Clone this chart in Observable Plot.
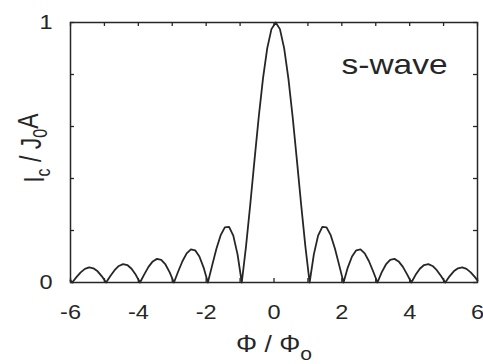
<!DOCTYPE html>
<html>
<head>
<meta charset="utf-8">
<script src="https://cdn.jsdelivr.net/npm/d3@7"></script>
<script src="https://cdn.jsdelivr.net/npm/@observablehq/plot@0.6"></script>
<style>
  html, body { margin: 0; padding: 0; background: #fff; }
  svg { display: block; }
</style>
</head>
<body>
<div id="chart"></div>
<script>
// Flux Φ/Φ0 (x) and normalised critical current Ic/J0A (y)
const phi = [
  -6.0, -5.95, -5.825, -5.70, -5.575, -5.45, -5.325, -5.20, -5.075, -4.95,
  -4.825, -4.70, -4.575, -4.45, -4.325, -4.20, -4.075, -3.95,
  -3.825, -3.70, -3.575, -3.45, -3.325, -3.20, -3.075, -2.95,
  -2.825, -2.70, -2.575, -2.45, -2.325, -2.20, -2.075, -1.95,
  -1.825, -1.70, -1.575, -1.45, -1.325, -1.20, -1.075, -0.95,
  -0.825, -0.70, -0.575, -0.45, -0.325, -0.20, -0.075, 0.05,
  0.175, 0.30, 0.425, 0.55, 0.675, 0.80, 0.925, 1.05,
  1.175, 1.30, 1.425, 1.55, 1.675, 1.80, 1.925, 2.05,
  2.175, 2.30, 2.425, 2.55, 2.675, 2.80, 2.925, 3.05,
  3.175, 3.30, 3.425, 3.55, 3.675, 3.80, 3.925, 4.05,
  4.175, 4.30, 4.425, 4.55, 4.675, 4.80, 4.925, 5.05,
  5.175, 5.30, 5.425, 5.55, 5.675, 5.80, 5.925, 6.0
];
const ic = [
  0.008, 0, 0.0207, 0.0391, 0.0523, 0.0579, 0.0547, 0.0429, 0.0238, 0,
  0.0250, 0.0474, 0.0636, 0.0707, 0.0672, 0.0530, 0.0295, 0,
  0.0314, 0.0600, 0.0811, 0.0909, 0.0871, 0.0693, 0.0390, 0,
  0.0424, 0.0818, 0.1120, 0.1273, 0.1238, 0.1000, 0.0573, 0,
  0.0650, 0.1286, 0.1810, 0.2122, 0.2139, 0.1801, 0.1083, 0,
  0.1392, 0.3001, 0.4705, 0.6366, 0.7842, 0.9003, 0.9745, 1.0,
  0.9745, 0.9003, 0.7842, 0.6366, 0.4705, 0.3001, 0.1392, 0,
  0.1083, 0.1801, 0.2139, 0.2122, 0.1810, 0.1286, 0.0650, 0,
  0.0573, 0.1000, 0.1238, 0.1273, 0.1120, 0.0818, 0.0424, 0,
  0.0390, 0.0693, 0.0871, 0.0909, 0.0811, 0.0600, 0.0314, 0,
  0.0295, 0.0530, 0.0672, 0.0707, 0.0636, 0.0474, 0.0250, 0,
  0.0238, 0.0429, 0.0547, 0.0579, 0.0523, 0.0391, 0.0207, 0.008
];

const xTickLabels = [-6, -4, -2, 0, 2, 4, 6];
const xMinorTicks = [-6, -5, -4, -3, -2, -1, 0, 1, 2, 3, 4, 5, 6];
const yTickLabels = [0, 1];
const yMinorTicks = [0, 0.2, 0.4, 0.6, 0.8, 1];
const seriesLabel = "s-wave";
const xLabel = "Φ / Φo";
const yLabel = "Ic / J0A";

const data = phi.map((x, i) => ({x, y: ic[i]}));

const W = 483, H = 364;
const mL = 70, mR = 6, mT = 22, mB = 82;
const plotW = W - mL - mR, plotH = H - mT - mB;
const tickLen = 4;

const ink = "#262626";
const font = "'Liberation Sans', Arial, sans-serif";

const chart = Plot.plot({
  width: W,
  height: H,
  marginLeft: mL,
  marginRight: mR,
  marginTop: mT,
  marginBottom: mB,
  style: {fontFamily: font, color: ink, background: "#fff"},
  x: {domain: [-6, 6]},
  y: {domain: [0, 1]},
  marks: [
    // inward minor ticks on all four sides
    Plot.tickX(xMinorTicks, {x: d => d, insetTop: plotH - tickLen, stroke: ink, strokeWidth: 1.3}),
    Plot.tickX(xMinorTicks, {x: d => d, insetBottom: plotH - tickLen, stroke: ink, strokeWidth: 1.3}),
    Plot.tickY(yMinorTicks, {y: d => d, insetRight: plotW - tickLen, stroke: ink, strokeWidth: 1.3}),
    Plot.tickY(yMinorTicks, {y: d => d, insetLeft: plotW - tickLen, stroke: ink, strokeWidth: 1.3}),
    Plot.frame({stroke: ink, strokeWidth: 1.5}),
    // tick labels
    Plot.axisX({anchor: "bottom", ticks: xTickLabels, tickSize: 0, tickPadding: 22, tickFormat: d => String(d), label: null, fontSize: 21, fill: ink}),
    Plot.axisY({anchor: "left", ticks: yTickLabels, tickSize: 0, tickPadding: 18, tickFormat: d => String(d), label: null, fontSize: 21, fill: ink}),
    // data curve
    Plot.line(data, {x: "x", y: "y", stroke: ink, strokeWidth: 1.8}),
    // texts
    Plot.text([seriesLabel], {text: d => d, frameAnchor: "top-right", textAnchor: "end", lineAnchor: "bottom", dx: -30, dy: 51, fontSize: 28, fill: ink}),
    Plot.text([xLabel], {text: d => d, frameAnchor: "bottom", lineAnchor: "top", dy: 52, fontSize: 24, fill: ink}),
    Plot.text([yLabel], {text: d => d, frameAnchor: "left", rotate: -90, lineAnchor: "middle", dx: -36, fontSize: 23, fill: ink})
  ]
});

document.getElementById("chart").appendChild(chart);

// subscripts and horizontal stretch (the reference glyphs are wide)
const svg = d3.select(chart);
const tickStrings = new Set([...xTickLabels, ...yTickLabels].map(String));
let yLabelNode = null;
svg.selectAll("text").each(function() {
  const t = d3.select(this);
  const s = this.textContent;
  if (s === seriesLabel) {
    t.attr("textLength", 106).attr("lengthAdjust", "spacingAndGlyphs");
  } else if (s === xLabel) {
    t.text("");
    t.append("tspan").text("Φ / Φ");
    t.append("tspan").text("o").attr("dy", "0.45em").attr("font-size", "0.8em");
    const w = this.getComputedTextLength();
    t.attr("textLength", w * 1.1).attr("lengthAdjust", "spacingAndGlyphs");
  } else if (s === yLabel) {
    t.text("");
    t.append("tspan").text("I");
    t.append("tspan").text("c").attr("dy", "0.3em").attr("font-size", "0.7em");
    t.append("tspan").text(" / J").attr("dy", "-0.3em");
    t.append("tspan").text("0").attr("dy", "0.3em").attr("font-size", "0.7em");
    t.append("tspan").text("A").attr("dy", "-0.3em");
    const tr = t.attr("transform") || "";
    t.attr("transform", tr + " scale(1,1.3)");
    yLabelNode = this;
  } else if (tickStrings.has(s)) {
    const w = this.getComputedTextLength();
    t.attr("textLength", w * 1.12).attr("lengthAdjust", "spacingAndGlyphs");
  }
});

// centre the rotated y label where the reference has it
if (yLabelNode) {
  const sr = chart.getBoundingClientRect();
  const r = yLabelNode.getBoundingClientRect();
  const cx = r.left - sr.left + r.width / 2;
  const cy = r.top - sr.top + r.height / 2;
  const tr = yLabelNode.getAttribute("transform") || "";
  yLabelNode.setAttribute("transform", `translate(${33 - cx},${148 - cy}) ` + tr);
}
</script>
</body>
</html>
